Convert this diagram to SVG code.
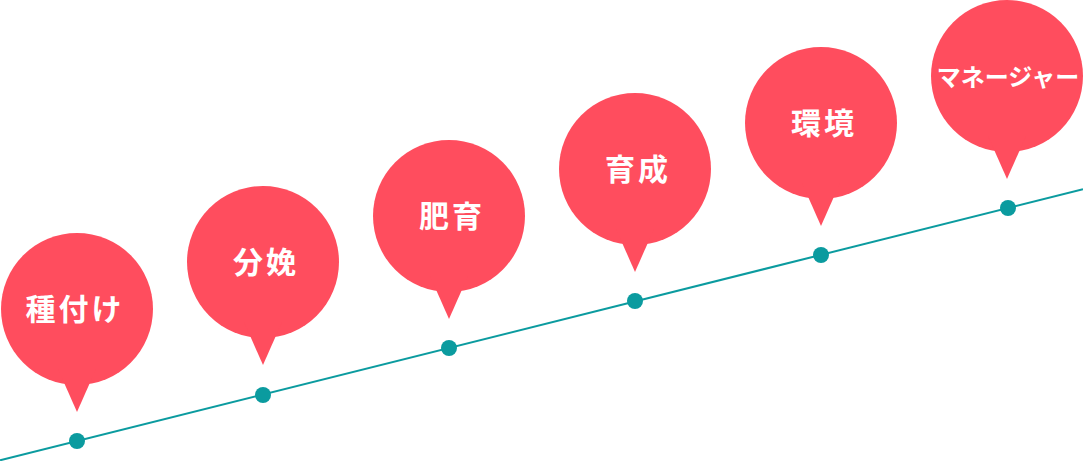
<svg xmlns="http://www.w3.org/2000/svg" width="1083" height="461" viewBox="0 0 1083 461">
<defs>
<style>
.bub{fill:#FF4D5E}
.dot{fill:#0B9B9F}
.ln{stroke:#0B9B9F;stroke-width:2;fill:none}
.lb{fill:#FFFFFF;font-family:"Noto Sans CJK JP","Noto Sans CJK SC",sans-serif;font-weight:bold;font-size:30px;text-anchor:middle;letter-spacing:3px}
.lb2{fill:#FFFFFF;font-family:"Noto Sans CJK JP","Noto Sans CJK SC",sans-serif;font-weight:bold;font-size:24px;text-anchor:middle}
</style>
<g id="pin">
<circle cx="0" cy="0" r="76"/>
<path d="M-19,60 L19,60 L0,103 Z"/>
</g>
</defs>
<rect width="1083" height="461" fill="#FFFFFF"/>
<g id="connectors">
<path class="ln" d="M0,460.3 L1083,189.3"/>
</g>
<g id="n1"><use href="#pin" class="bub" x="77" y="309"/><circle class="dot" cx="77" cy="441" r="8"/><text class="lb" x="75" y="320">種付け</text></g>
<g id="n2"><use href="#pin" class="bub" x="263" y="262"/><circle class="dot" cx="263" cy="395" r="8"/><text class="lb" x="266" y="273">分娩</text></g>
<g id="n3"><use href="#pin" class="bub" x="449" y="216"/><circle class="dot" cx="449" cy="348" r="8"/><text class="lb" x="452" y="227">肥育</text></g>
<g id="n4"><use href="#pin" class="bub" x="635" y="169"/><circle class="dot" cx="635" cy="301" r="8"/><text class="lb" x="638" y="180">育成</text></g>
<g id="n5"><use href="#pin" class="bub" x="821" y="123"/><circle class="dot" cx="821" cy="255" r="8"/><text class="lb" x="824" y="134">環境</text></g>
<g id="n6"><use href="#pin" class="bub" x="1007" y="76"/><circle class="dot" cx="1008" cy="208" r="8"/><text class="lb2" x="1008" y="86">マネージャー</text></g>
</svg>
